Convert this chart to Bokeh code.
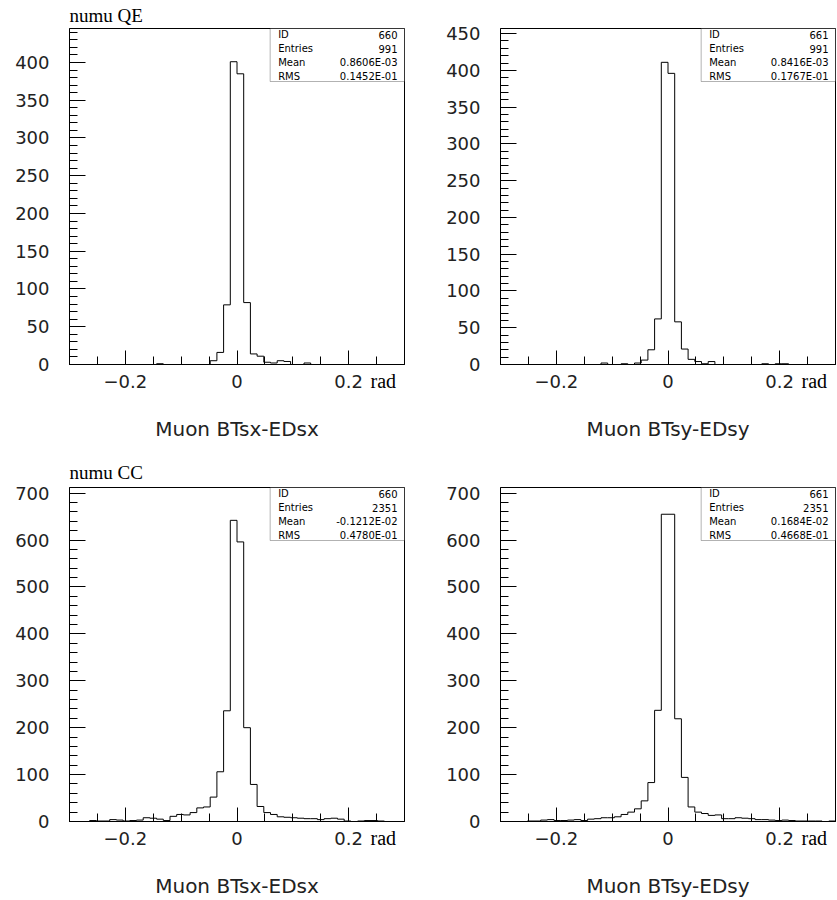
import numpy as np
from bokeh.plotting import figure
from bokeh.models import (Range1d, FixedTicker, Label, BoxAnnotation, CustomJSTickFormatter,
                          LinearAxis)
from bokeh.layouts import gridplot
from bokeh.embed import file_html
from bokeh.resources import INLINE

# ---------------- data ----------------
x_lo, x_hi, n_bins = -0.3, 0.3, 50
bin_edges = np.linspace(x_lo, x_hi, n_bins + 1)

qe_sx_counts = [0, 0, 0, 0, 0, 0, 0, 0, 0, 0,
                0, 0, 0, 1, 0, 0, 0, 0, 0, 0,
                0, 5, 16, 79, 401, 385, 82, 14, 11, 3,
                2, 5, 4, 0, 0, 2, 0, 0, 0, 0,
                0, 0, 0, 0, 0, 0, 0, 0, 0, 0]
qe_sy_counts = [0, 0, 0, 0, 0, 0, 0, 0, 0, 0,
                0, 0, 0, 0, 0, 2, 0, 0, 1, 0,
                2, 6, 20, 62, 411, 396, 58, 21, 7, 4,
                1, 4, 0, 0, 0, 0, 0, 0, 0, 1,
                0, 1, 1, 0, 0, 0, 0, 0, 0, 0]
cc_sx_counts = [0, 0, 0, 2, 1, 1, 4, 3, 1, 2,
                3, 8, 7, 5, 2, 11, 15, 14, 19, 29,
                31, 52, 106, 236, 642, 596, 200, 79, 32, 19,
                15, 10, 9, 8, 7, 6, 6, 4, 6, 7,
                5, 1, 0, 1, 2, 2, 1, 0, 0, 0]
cc_sy_counts = [0, 0, 0, 0, 1, 1, 3, 4, 2, 2,
                3, 4, 2, 5, 6, 8, 8, 10, 15, 20,
                27, 44, 83, 237, 655, 655, 219, 94, 31, 20,
                17, 13, 14, 6, 6, 8, 7, 6, 4, 4,
                3, 2, 3, 2, 1, 1, 1, 1, 0, 1]

x_major_ticks = [-0.2, 0.0, 0.2]
x_minor_ticks = [-0.3, -0.25, -0.2, -0.15, -0.1, -0.05, 0.0, 0.05, 0.1, 0.15, 0.2, 0.25, 0.3]

y_tops = [445, 457, 712, 712]
y_major_steps = [50, 50, 100, 100]
y_minor_steps = [10, 10, 20, 20]

titles = ["numu QE", "", "numu CC", ""]
x_titles = ["Muon BTsx-EDsx", "Muon BTsy-EDsy", "Muon BTsx-EDsx", "Muon BTsy-EDsy"]
unit_text = "rad"
unit_pos = 0.262
stat_names = ["ID", "Entries", "Mean", "RMS"]
stat_ids = ["660", "661", "660", "661"]
stat_entries = ["991", "991", "2351", "2351"]
stat_means = ["0.8606E-03", "0.8416E-03", "-0.1212E-02", "0.1684E-02"]
stat_rms = ["0.1452E-01", "0.1767E-01", "0.4780E-01", "0.4668E-01"]

all_counts = [qe_sx_counts, qe_sy_counts, cc_sx_counts, cc_sy_counts]

# ---------------- layout (pixels) ----------------
# (width, height, border_left, border_right, border_top, border_bottom,
#  axis_label_standoff, title_standoff)
geom = [
    (420, 455, 69, 16, 28, 91, 26, 5),
    (417, 455, 80, 2, 28, 91, 26, 5),
    (420, 445, 69, 16, 32, 79, 26, 9),
    (417, 445, 80, 2, 32, 79, 26, 9),
]

TICK_FONT = "DejaVu Sans"
SERIF = "Liberation Serif"
UNIT_STANDOFF = 5
LABEL_STANDOFF = -20

x_fmt = CustomJSTickFormatter(code="""
if (Math.abs(tick) < 1e-9) { return "0"; }
const s = Math.abs(tick).toFixed(1);
return tick < 0 ? "\u2212" + s : s;
""")


def make_panel(i):
    w, h, bl, br, bt, bb, als, tst = geom[i]
    frame_h = h - bt - bb
    ytop = y_tops[i]
    p = figure(width=w, height=h, x_range=Range1d(x_lo, x_hi), y_range=Range1d(0, ytop),
               output_backend="svg", toolbar_location=None, x_axis_location=None,
               min_border_left=bl, min_border_right=br,
               min_border_top=bt, min_border_bottom=bb)
    p.grid.visible = False
    p.outline_line_color = "black"
    p.outline_line_width = 1
    p.background_fill_color = "white"
    p.border_fill_color = "white"

    if titles[i]:
        p.title.text = titles[i]
        p.title.text_font = SERIF
        p.title.text_font_size = "19px"
        p.title.text_font_style = "normal"
        p.title.text_color = "black"
        p.title.align = "left"
        p.title.standoff = tst

    counts = all_counts[i]
    p.step(x=bin_edges, y=list(counts) + [counts[-1]], mode="after",
           line_color="black", line_width=1)

    # 1) tick marks only (inward ticks, no labels)
    xt = LinearAxis(ticker=FixedTicker(ticks=x_major_ticks, minor_ticks=x_minor_ticks))
    xt.major_tick_in = 14
    xt.major_tick_out = 0
    xt.minor_tick_in = 8
    xt.minor_tick_out = 0
    xt.axis_line_color = "black"
    xt.major_tick_line_color = "black"
    xt.minor_tick_line_color = "black"
    xt.major_label_text_font_size = "0px"
    xt.major_label_standoff = 0
    xt.formatter = CustomJSTickFormatter(code='return "";')
    p.add_layout(xt, "below")

    # 2) unit label "rad" (serif), on the same line as the tick labels
    xu = LinearAxis(ticker=FixedTicker(ticks=[unit_pos]))
    xu.formatter = CustomJSTickFormatter(args=dict(t=unit_text), code="return t;")
    xu.axis_line_color = None
    xu.major_tick_line_color = None
    xu.minor_tick_line_color = None
    xu.major_tick_in = 0
    xu.major_tick_out = 0
    xu.major_label_text_font = SERIF
    xu.major_label_text_font_size = "20px"
    xu.major_label_text_color = "black"
    xu.major_label_standoff = UNIT_STANDOFF
    p.add_layout(xu, "below")

    # 3) numeric tick labels + axis title
    xa = LinearAxis(ticker=FixedTicker(ticks=x_major_ticks))
    xa.formatter = x_fmt
    xa.axis_line_color = None
    xa.major_tick_line_color = None
    xa.minor_tick_line_color = None
    xa.major_tick_in = 0
    xa.major_tick_out = 0
    xa.major_label_text_font = TICK_FONT
    xa.major_label_text_font_size = "18px"
    xa.major_label_text_color = "#222222"
    xa.major_label_standoff = LABEL_STANDOFF
    xa.axis_label = x_titles[i]
    xa.axis_label_text_font = TICK_FONT
    xa.axis_label_text_font_size = "20px"
    xa.axis_label_text_font_style = "normal"
    xa.axis_label_text_color = "#222222"
    xa.axis_label_standoff = als
    p.add_layout(xa, "below")

    # y axis
    ya = p.yaxis[0]
    ya.ticker = FixedTicker(ticks=list(range(0, ytop + 1, y_major_steps[i])),
                            minor_ticks=list(range(0, ytop + 1, y_minor_steps[i])))
    ya.major_tick_in = 16
    ya.major_tick_out = 0
    ya.minor_tick_in = 8
    ya.minor_tick_out = 0
    ya.axis_line_color = "black"
    ya.major_label_text_font = TICK_FONT
    ya.major_label_text_font_size = "18px"
    ya.major_label_text_color = "#222222"
    ya.major_label_standoff = 20

    # statistics box
    box_left = x_lo + 0.599 * (x_hi - x_lo)
    box_bottom = ytop * (1 - 53.0 / frame_h)
    p.add_layout(BoxAnnotation(left=box_left, right=x_hi, top=ytop, bottom=box_bottom,
                               fill_color="white", fill_alpha=1.0,
                               line_color="black", line_width=1))
    vals = [stat_ids[i], stat_entries[i], stat_means[i], stat_rms[i]]
    for r, (nm, vl) in enumerate(zip(stat_names, vals)):
        off = 6 + 14 * r
        p.add_layout(Label(x=box_left, y=ytop, x_offset=8, y_offset=-off, text=nm,
                           text_font=TICK_FONT, text_font_size="10px",
                           text_baseline="middle", text_align="left", text_color="black"))
        p.add_layout(Label(x=x_hi, y=ytop, x_offset=-7, y_offset=-off, text=vl,
                           text_font=TICK_FONT, text_font_size="10px",
                           text_baseline="middle", text_align="right", text_color="black"))
    return p


panels = [make_panel(i) for i in range(4)]
grid = gridplot([[panels[0], panels[1]], [panels[2], panels[3]]], toolbar_location=None)

open("out.html", "w").write(file_html(grid, INLINE))
